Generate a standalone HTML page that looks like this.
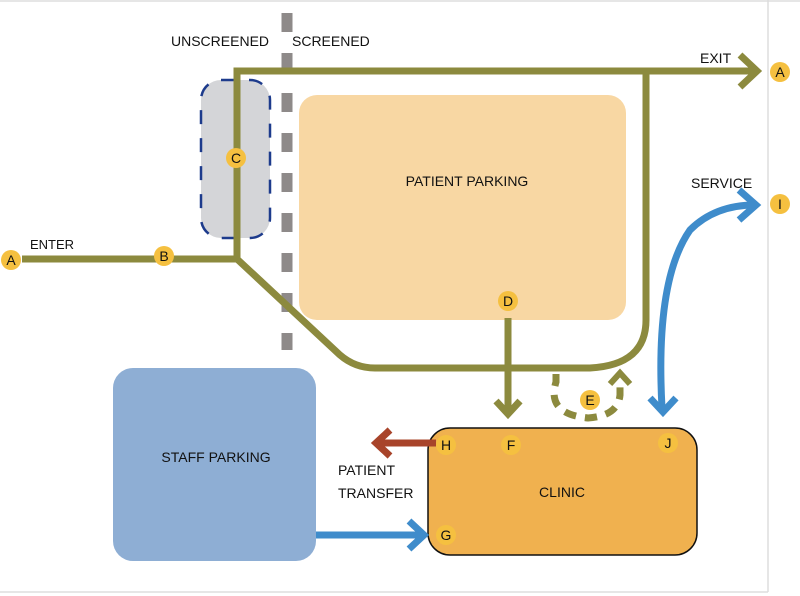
<!DOCTYPE html>
<html><head><meta charset="utf-8"><style>
html,body{margin:0;padding:0;background:#fff;}
svg{display:block;}
text{font-family:"Liberation Sans",sans-serif;font-size:14px;fill:#111;}
.l{font-size:13px;}
</style></head><body>
<svg width="800" height="596" viewBox="0 0 800 596">
<line x1="0" y1="1" x2="800" y2="1" stroke="#ddd" stroke-width="1.5"/>
<line x1="768" y1="0" x2="768" y2="592" stroke="#ddd" stroke-width="1.5"/>
<line x1="0" y1="592" x2="768" y2="592" stroke="#ddd" stroke-width="1.5"/>

<rect x="299" y="95" width="327" height="225" rx="18" fill="#f8d7a3"/>
<rect x="113" y="368" width="203" height="193" rx="20" fill="#8eaed4"/>
<rect x="201" y="80" width="69" height="158" rx="20" fill="#d4d5d8" stroke="#1d3b8c" stroke-width="2.5" stroke-dasharray="14,14"/>
<line x1="287" y1="13" x2="287" y2="350" stroke="#8e8a89" stroke-width="11" stroke-dasharray="19,21"/>

<g fill="none" stroke="#8c8a3e" stroke-width="7">
<path d="M22 259 H237 V71 H755"/>
<path d="M237 259 L340 355 Q355 368 375 368 H590 Q646 365 646 320 V71"/>
<polyline points="740,55 757,71 740,87" stroke-width="7"/>
<line x1="508" y1="318" x2="508" y2="412"/>
<polyline points="496,401 508,414 520,401" stroke-width="7"/>
<path d="M556 374 V382 Q546 414 588 418 Q618 416 620 395 V380" stroke-dasharray="12,9"/>
<polyline points="610,384 620,373 630,384" stroke-width="6"/>
</g>

<rect x="428" y="428" width="269" height="127" rx="22" fill="#f0b14f" stroke="#111" stroke-width="1.5"/>

<g fill="none" stroke="#3f8ccb" stroke-width="7">
<path d="M662 408 Q655 280 690 230 Q715 205 755 205"/>
<polyline points="739,190 756,205 739,220"/>
<polyline points="650,398 663,412 676,398"/>
<line x1="316" y1="535" x2="422" y2="535"/>
<polyline points="409,521 424,535 409,549"/>
</g>
<g fill="none" stroke="#a8442a" stroke-width="7">
<line x1="436" y1="443" x2="378" y2="443"/>
<polyline points="390,430 376,443 390,456"/>
</g>

<g fill="#f5c040">
<circle cx="11" cy="260" r="10"/><circle cx="164" cy="256" r="10"/><circle cx="236" cy="158" r="10"/>
<circle cx="780" cy="72" r="10"/><circle cx="780" cy="204" r="10"/><circle cx="508" cy="301" r="10"/>
<circle cx="590" cy="400" r="10"/><circle cx="446" cy="445" r="10"/><circle cx="511" cy="445" r="10"/>
<circle cx="668" cy="443" r="10"/><circle cx="446" cy="535" r="10"/>
</g>
<g class="l" text-anchor="middle">
<text x="11" y="265">A</text><text x="164" y="261">B</text><text x="236" y="163">C</text>
<text x="780" y="77">A</text><text x="780" y="209">I</text><text x="508" y="306">D</text>
<text x="590" y="405">E</text><text x="446" y="450">H</text><text x="511" y="450">F</text>
<text x="668" y="448">J</text><text x="446" y="540">G</text>
</g>

<text x="171" y="46">UNSCREENED</text>
<text x="292" y="46">SCREENED</text>
<text x="700" y="63">EXIT</text>
<text x="30" y="249" class="l">ENTER</text>
<text x="691" y="188">SERVICE</text>
<text x="467" y="186" text-anchor="middle">PATIENT PARKING</text>
<text x="216" y="462" text-anchor="middle">STAFF PARKING</text>
<text x="562" y="497" text-anchor="middle">CLINIC</text>
<text x="338" y="475">PATIENT</text>
<text x="338" y="498">TRANSFER</text>
</svg>
</body></html>
